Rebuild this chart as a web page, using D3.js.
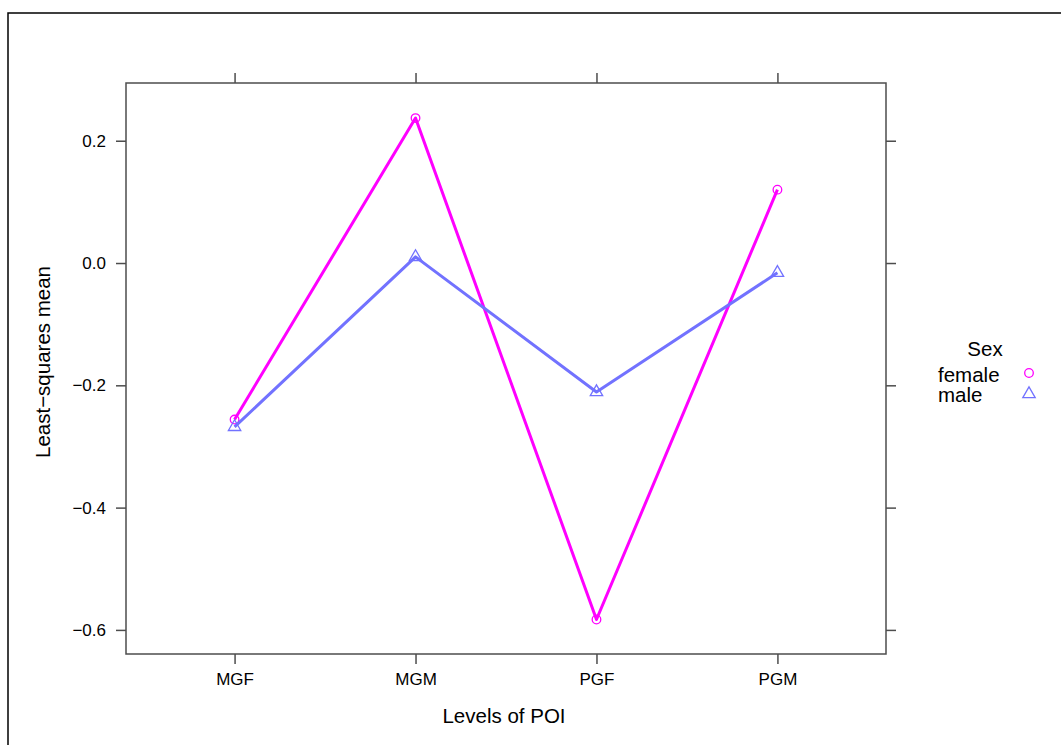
<!DOCTYPE html>
<html>
<head>
<meta charset="utf-8">
<script src="https://cdn.jsdelivr.net/npm/d3@7"></script>
<style>
  body { margin: 0; background: #fff; }
  svg { display: block; font-family: "Liberation Sans", Arial, Helvetica, sans-serif; }
</style>
</head>
<body>
<svg id="chart" width="1061" height="745"></svg>
<script>
// Levels of the factor on the x axis
const levels = ["MGF", "MGM", "PGF", "PGM"];
// Least-squares means per sex
const femaleMeans = [-0.256, 0.237, -0.583, 0.120];
const maleMeans = [-0.268, 0.010, -0.211, -0.016];
const seriesNames = ["female", "male"];
const yTicks = [-0.6, -0.4, -0.2, 0.0, 0.2];
const xTitle = "Levels of POI";
const yTitle = "Least\u2212squares mean";
const legendTitle = "Sex";

const colors = { female: "#FF00FF", male: "#7272FF" };
const series = [
  { name: seriesNames[0], values: femaleMeans, symbol: "circle" },
  { name: seriesNames[1], values: maleMeans, symbol: "triangle" }
];

const svg = d3.select("#chart");
const panel = { left: 126, right: 886, top: 83, bottom: 654 };
const axisCol = "#4D4D4D";

// Outer frame
svg.append("rect")
  .attr("x", 8).attr("y", 13)
  .attr("width", 1100).attr("height", 800)
  .attr("fill", "none").attr("stroke", "#000").attr("stroke-width", 1.5);

const x = d3.scalePoint().domain(levels).range([panel.left, panel.right]).padding(0.6);
const y = d3.scaleLinear().domain([-0.6394, 0.2944]).range([panel.bottom, panel.top]);
const fmt = d3.format(".1f");

function styleAxis(g, showText) {
  g.select(".domain").remove();
  g.selectAll(".tick line").attr("stroke", axisCol).attr("stroke-width", 1.5);
  g.selectAll(".tick text").attr("fill", "#000").style("font-size", "17px");
  if (!showText) g.selectAll(".tick text").remove();
}

svg.append("g").attr("transform", `translate(${panel.left},0)`)
  .call(d3.axisLeft(y).tickValues(yTicks).tickFormat(fmt).tickSize(10).tickPadding(10))
  .call(g => styleAxis(g, true));
svg.append("g").attr("transform", `translate(${panel.right},0)`)
  .call(d3.axisRight(y).tickValues(yTicks).tickSize(10))
  .call(g => styleAxis(g, false));
svg.append("g").attr("transform", `translate(0,${panel.bottom})`)
  .call(d3.axisBottom(x).tickSize(10).tickPadding(9))
  .call(g => styleAxis(g, true));
svg.append("g").attr("transform", `translate(0,${panel.top})`)
  .call(d3.axisTop(x).tickSize(10))
  .call(g => styleAxis(g, false));

// Panel border
svg.append("rect")
  .attr("x", panel.left).attr("y", panel.top)
  .attr("width", panel.right - panel.left).attr("height", panel.bottom - panel.top)
  .attr("fill", "none").attr("stroke", axisCol).attr("stroke-width", 1.5);

// Symbols
function triPath(cx, cy, s) {
  const r = s * 1.555, xc = s * 1.347, yc = s * 0.778;
  return `M${cx},${cy - r}L${cx + xc},${cy + yc}L${cx - xc},${cy + yc}Z`;
}
function drawSymbol(g, type, cx, cy, col) {
  if (type === "circle") {
    g.append("circle").attr("cx", cx).attr("cy", cy).attr("r", 4.3)
      .attr("fill", "none").attr("stroke", col).attr("stroke-width", 1.3);
  } else {
    g.append("path").attr("d", triPath(cx, cy, 4.6))
      .attr("fill", "none").attr("stroke", col).attr("stroke-width", 1.3);
  }
}

const line = d3.line().x((d, i) => x(levels[i])).y(d => y(d));
series.forEach(s => {
  const g = svg.append("g");
  g.append("path").datum(s.values).attr("d", line)
    .attr("fill", "none").attr("stroke", colors[s.name]).attr("stroke-width", 3)
    .attr("stroke-linejoin", "round");
  s.values.forEach((v, i) => drawSymbol(g, s.symbol, x(levels[i]), y(v), colors[s.name]));
});

// Axis titles
svg.append("text").attr("x", 504).attr("y", 723).attr("text-anchor", "middle")
  .style("font-size", "20.5px").text(xTitle);
svg.append("text").attr("transform", "translate(50,362) rotate(-90)").attr("text-anchor", "middle")
  .style("font-size", "20.5px").text(yTitle);

// Legend
const leg = svg.append("g");
leg.append("text").attr("x", 985).attr("y", 356).attr("text-anchor", "middle")
  .style("font-size", "20.5px").text(legendTitle);
series.forEach((s, i) => {
  const cy = 373 + i * 20;
  leg.append("text").attr("x", 938).attr("y", cy + 9).style("font-size", "20.5px").text(s.name);
  drawSymbol(leg, s.symbol, 1029, cy + (s.symbol === "triangle" ? 1 : 0), colors[s.name]);
});
</script>
</body>
</html>
